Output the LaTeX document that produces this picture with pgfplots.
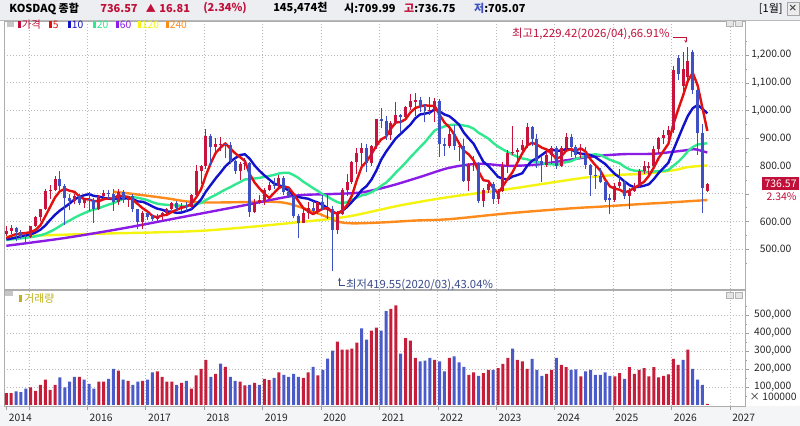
\documentclass[border=0pt]{standalone}
\usepackage{pgfplots}
\pgfplotsset{compat=1.18}
\usepackage{pgfplotstable}
\usepackage{fontspec}
\setmainfont{Noto Sans CJK KR}
\usetikzlibrary{arrows.meta}
\definecolor{upc}{HTML}{C8143C}
\definecolor{dnc}{HTML}{3F4FC4}
\definecolor{volr}{HTML}{C41E3A}
\definecolor{volb}{HTML}{4A5AC8}
\definecolor{maA}{HTML}{E41010}
\definecolor{maB}{HTML}{1212CC}
\definecolor{maC}{HTML}{30E890}
\definecolor{maD}{HTML}{8A1CE6}
\definecolor{maE}{HTML}{F4F410}
\definecolor{maF}{HTML}{FF8A1C}
\definecolor{crim}{HTML}{C0103A}
\definecolor{slate}{HTML}{3B4B8A}
\definecolor{hdrbg}{HTML}{ECEEF1}
\definecolor{olive}{HTML}{BDB21C}

% candles: x o h l c
\pgfplotstableread{
x o h l c
0 556 582 548 567
1 567 586 556 575
5 543 585 540 582
6 582 620 578 616
7 616 646 600 643
8 643 717 640 708
9 708 731 680 712
10 712 763 708 752
14 675 700 661 692
16 668 686 650 682
19 645 695 640 691
20 691 712 682 703
23 670 715 660 707
25 676 693 651 690
28 596 636 574 632
31 609 625 600 619
32 619 635 605 631
33 631 650 627 643
34 643 671 640 668
36 650 666 636 654
38 652 700 643 694
39 694 803 690 781
40 781 805 735 798
41 798 932 790 908
43 868 902 842 878
44 876 904 853 880
48 782 815 749 808
49 806 830 786 810
51 634 680 630 667
52 667 695 662 676
53 676 720 660 714
54 714 743 710 731
56 726 766 723 757
61 595 646 593 631
62 631 670 610 650
64 637 671 625 669
66 640 694 609 643
68 569 636 554 627
69 627 720 622 713
70 713 770 690 743
71 743 816 734 815
72 815 866 771 847
73 847 883 795 866
75 809 875 800 873
76 873 969 861 968
79 913 962 894 956
80 956 1031 948 983
82 977 1017 970 1012
83 1012 1061 1003 1035
84 1032 1062 980 1036
87 997 1050 985 1002
88 1002 1044 958 1033
91 872 942 865 915
93 869 880 817 873
95 745 812 708 804
96 804 834 781 807
98 673 719 651 712
99 712 745 702 733
101 679 715 663 711
102 711 815 705 800
103 800 856 773 848
104 848 944 840 851
105 851 865 817 857
106 857 895 855 874
107 874 956 864 939
111 802 854 795 841
112 841 871 807 866
114 799 870 795 863
115 863 919 857 906
118 839 879 829 842
125 678 738 670 728
126 728 790 720 743
128 693 720 645 711
129 711 740 705 728
130 728 790 720 781
131 781 819 772 801
132 793 815 769 800
133 800 872 790 860
134 860 905 845 900
135 900 930 880 910
136 910 945 890 930
137 930 1160 920 1145
139 1088 1212 1070 1150
140 1120 1229.42 1100 1180
144 709.99 736.75 705.07 736.57
}\upT

\pgfplotstableread{
x o h l c
2 575 580 528 561
3 561 570 536 545
4 547 562 522 543
11 752 783 710 728
12 728 735 587 685
13 685 697 641 675
15 692 698 660 668
17 682 705 639 678
18 678 684 595 645
21 703 714 680 699
22 699 717 637 670
24 707 713 666 676
26 690 697 633 643
27 643 644 573 596
29 632 642 606 617
30 617 623 602 609
35 668 675 640 650
37 654 671 636 651
42 908 916 799 868
45 880 887 830 874
46 874 887 806 817
47 817 820 772 782
50 810 813 617 634
55 731 758 718 726
57 757 764 696 705
58 705 720 685 690
59 690 699 612 618
60 618 625 540 595
63 650 672 627 637
65 669 695 640 640
67 643 654 419.55 569
74 866 878 779 809
77 968 1007 935 963
78 963 980 895 913
81 983 987 919 977
85 1036 1047 996 1012
86 1012 1023 957 999
89 1033 1040 833 878
90 878 900 837 872
92 915 948 858 870
94 873 898 742 745
97 807 815 665 673
100 733 743 661 679
108 939 944 870 896
109 896 914 794 818
110 818 831 743 802
113 866 870 790 799
116 906 916 832 868
117 868 876 829 839
119 841 868 790 803
120 803 806 691 767
121 767 797 718 763
122 763 791 737 743
123 743 749 671 678
124 686 700 627 678
127 743 748 680 693
138 1188 1200 1110 1130
141 1212 1218 1060 1075
142 1075 1090 840 918
143 918 950 629 719.76
}\dnT

\pgfplotstableread{
x v
0 540
1 548
2 554
3 556
4 558.2
5 561.2
6 569.4
7 585.8
8 618.4
9 652.2
10 686.2
11 708.6
12 717
13 710.4
14 706.4
15 689.6
16 680.4
17 679
18 673
19 672.8
20 679.8
21 683.2
22 681.6
23 694
24 691
25 688.4
26 677.2
27 662.4
28 647.4
29 635.6
30 619.4
31 614.6
32 621.6
33 623.8
34 634
35 642.2
36 649.2
37 653.4
38 663.6
39 686.2
40 715.8
41 766.6
42 809.8
43 846.6
44 866
45 881.2
46 863
47 845.8
48 831.8
49 818
50 770
51 740
52 718.8
53 700
54 684.4
55 702.8
56 720.8
57 726.6
58 721.8
59 699.2
60 673
61 647.8
62 636.8
63 626.2
64 636.4
65 645.4
66 647.8
67 631.6
68 629.6
69 638.4
70 659
71 693.4
72 749
73 796.8
74 816
75 842
76 872.6
77 895.8
78 905.2
79 934.6
80 956.6
81 958.4
82 968.2
83 992.6
84 1008.6
85 1014.4
86 1018.8
87 1016.4
88 1016
89 984.4
90 956.4
91 939.6
92 913.6
93 881.4
94 854.8
95 841.2
96 819.6
97 780.2
98 748.2
99 745.8
100 720.8
101 701.6
102 727
103 754.2
104 777.8
105 813.4
106 846
107 873.8
108 883.4
109 876.8
110 865.8
111 859.2
112 844.6
113 825.2
114 834.2
115 855
116 860.4
117 855
118 863.4
119 851.4
120 823.6
121 802.6
122 783.4
123 750.8
124 725.8
125 718
126 714
127 704
128 710.6
129 720.6
130 731.2
131 742.8
132 764.2
133 794
134 828.4
135 854.2
136 880
137 949
138 1003
139 1053
140 1107
141 1136
142 1090.6
143 1008.6
144 925.9
}\maFive

\pgfplotstableread{
x v
0 535
1 538
2 542
3 546
4 550
5 553
6 560
7 570
8 585
9 605.2
10 623.7
11 639
12 651.4
13 664.4
14 679.3
15 687.9
16 694.5
17 698
18 691.7
19 689.6
20 684.7
21 681.8
22 680.3
23 683.5
24 681.9
25 684.1
26 680.2
27 672
28 670.7
29 663.3
30 653.9
31 645.9
32 642
33 635.6
34 634.8
35 630.8
36 631.9
37 637.5
38 643.7
39 660.1
40 679
41 707.9
42 731.6
43 755.1
44 776.1
45 798.5
46 814.8
47 827.8
48 839.2
49 842
50 825.6
51 801.5
52 782.3
53 765.9
54 751.2
55 736.4
56 730.4
57 722.7
58 710.9
59 691.8
60 687.9
61 684.3
62 681.7
63 674
64 667.8
65 659.2
66 647.8
67 634.2
68 627.9
69 637.4
70 652.2
71 670.6
72 690.3
73 713.2
74 727.2
75 750.5
76 783
77 822.4
78 851
79 875.3
80 899.3
81 915.5
82 932
83 948.9
84 971.6
85 985.5
86 988.6
87 992.3
88 1004.3
89 996.5
90 985.4
91 979.2
92 965
93 948.7
94 919.6
95 898.8
96 879.6
97 846.9
98 814.8
99 800.3
100 781
101 760.6
102 753.6
103 751.2
104 761.8
105 767.1
106 773.8
107 800.4
108 818.8
109 827.3
110 839.6
111 852.6
112 859.2
113 854.3
114 855.5
115 860.4
116 859.8
117 849.8
118 844.3
119 842.8
120 839.3
121 831.5
122 819.2
123 807.1
124 788.6
125 770.8
126 758.3
127 743.7
128 730.7
129 723.2
130 724.6
131 728.4
132 734.1
133 752.3
134 774.5
135 792.7
136 811.4
137 856.6
138 898.5
139 940.7
140 980.6
141 1008
142 1019.8
143 1005.8
144 989.4
}\maTen

\pgfplotstableread{
x v
0 533
1 535
2 537
3 539
4 541
5 543
6 546
7 550
8 555
9 563
10 572
11 583
12 594
13 603
14 613
15 622
16 630
17 637
18 643
19 647.4
20 654.2
21 660.4
22 665.9
23 674
24 680.6
25 686
26 687.4
27 685
28 681.2
29 676.5
30 669.3
31 663.9
32 661.2
33 659.6
34 658.4
35 657.5
36 656.1
37 654.8
38 657.2
39 661.7
40 666.5
41 676.9
42 686.8
43 695.4
44 705.5
45 714.7
46 723.4
47 732.7
48 741.5
49 751.1
50 752.3
51 754.7
52 757
53 760.5
54 763.7
55 767.5
56 772.6
57 775.3
58 775.1
59 766.9
60 756.8
61 742.9
62 732
63 720
64 709.5
65 697.8
66 689.1
67 678.5
68 669.4
69 664.6
70 670.1
71 677.5
72 686
73 693.6
74 697.5
75 704.9
76 715.4
77 728.3
78 739.5
79 756.4
80 775.8
81 793.1
82 811.2
83 831.1
84 849.4
85 868
86 885.8
87 907.4
88 927.7
89 935.9
90 942.4
91 947.4
92 948.5
93 948.8
94 945.6
95 942.2
96 934.1
97 919.6
98 909.6
99 898.4
100 883.2
101 869.9
102 859.3
103 850
104 840.7
105 833
106 826.7
107 823.7
108 816.8
109 813.8
110 810.3
111 806.6
112 806.4
113 802.8
114 808.7
115 813.8
116 816.8
117 825.1
118 831.6
119 835.1
120 839.5
121 842.1
122 839.2
123 830.7
124 822.1
125 815.6
126 809.1
127 796.8
128 787.5
129 783
130 782
131 780
132 776.7
133 779.7
134 781.6
135 781.8
136 784.9
137 800.2
138 814.6
139 832
140 852.6
141 868.2
142 877
143 879.1
144 882
}\maTwenty

\pgfplotstableread{
x v
0 512
12 540
24 575
36 615
48 655
59 692
67 698.7
73 704.6
79 728.3
85 760.2
91 793.2
97 807.7
103 800.3
109 804.8
115 820.3
121 835
127 842.6
133 843.8
139 855.1
141 860
142 858.5
143 853.2
144 848.2
}\maSixty

\pgfplotstableread{
x v
0 545
10 551
20 556
30 560
40 566
50 580
60 597
70 617
81 658
91 688
103 716
112 740
119 758
125 767
131 772
137 784
140 795.7
144 801.5
}\maOneTwenty

\pgfplotstableread{
x v
22 707
26 699
33 683
37 672
41 668
47 669
54 671
58 664
64 629
68 600
71 593
77 596
84 603
91 608
103 629
116 647
122 653
130 662
136 668
144 677
}\maTwoForty

\pgfplotsset{
  chart/.style={
    scale only axis, width=741pt,
    xmin=-0.44, xmax=151.7,
    axis line style={draw=gray!65},
    grid style={draw=gray!55, dash pattern=on 1pt off 2pt},
    tick style={draw=gray!75},
    tick label style={font=\fontsize{10.3}{12}\selectfont, text=black!85},
    xtick={4.6,16.6,28.6,40.6,52.6,64.6,76.6,88.6,100.6,112.6,124.6,136.6,148.6},
    xmajorgrids, ymajorgrids,
    ytick pos=right, yticklabel pos=right,
    tick align=outside,
    major tick length=4pt, minor tick length=2.5pt,
  },
  wick/.style={forget plot, draw=none, mark=none,
    error bars/.cd, y dir=plus, y explicit, error mark=none,
    error bar style={draw=#1, line width=1pt}},
  body/.style={forget plot, draw=none, mark=none,
    error bars/.cd, y dir=plus, y explicit, error mark=none,
    error bar style={draw=#1, line width=3pt}},
  ma/.style={forget plot, no marks, line width=2.4pt, line join=round, color=#1},
}

\begin{document}
\begin{tikzpicture}
\fill[white] (0pt,0pt) rectangle (800pt,426pt);
\fill[hdrbg] (0pt,406pt) rectangle (800pt,426pt);
\fill[hdrbg!60] (0pt,0pt) rectangle (800pt,20pt);
\draw[gray!55] (0pt,405.5pt) -- (800pt,405.5pt);

% ===== main price panel =====
\begin{axis}[chart,
  at={(4pt,405pt)}, anchor=north west, height=268pt,
  ymin=356.7, ymax=1322.5,
  xticklabels={}, xtick style={draw=none},
  ytick={500,600,800,900,1000,1100,1200}, minor ytick={450,550,...,1250},
  extra y ticks={700}, extra y tick labels={},
  yticklabel style={anchor=east, xshift=46pt,
    /pgf/number format/.cd, fixed, fixed zerofill, precision=2, 1000 sep={,}, assume math mode=true},
]
\addplot[ma=maF, smooth, tension=0.5] table[x=x,y=v] {\maTwoForty};
\addplot[ma=maE, smooth, tension=0.5] table[x=x,y=v] {\maOneTwenty};
\addplot[ma=maD, smooth, tension=0.5] table[x=x,y=v] {\maSixty};
\addplot[ma=maC] table[x=x,y=v] {\maTwenty};
\addplot[ma=maB] table[x=x,y=v] {\maTen};
\addplot[ma=maA] table[x=x,y=v] {\maFive};
% wicks
\addplot[wick=upc] table[x=x, y=l, y error plus expr=\thisrow{h}-\thisrow{l}] {\upT};
\addplot[wick=dnc] table[x=x, y=l, y error plus expr=\thisrow{h}-\thisrow{l}] {\dnT};
% bodies
\addplot[body=upc] table[x=x, y=o, y error plus expr=\thisrow{c}-\thisrow{o}] {\upT};
\addplot[body=dnc] table[x=x, y=c, y error plus expr=\thisrow{o}-\thisrow{c}] {\dnT};
\end{axis}

% ===== volume panel =====
\begin{axis}[chart,
  at={(4pt,136pt)}, anchor=north west, height=116pt,
  ymin=-5000, ymax=640000,
  xtick pos=bottom,
  xticklabels={{},2016,2017,2018,2019,2020,2021,2022,2023,2024,2025,2026,2027},
  extra x ticks={0}, extra x tick labels={2014}, extra x tick style={grid=none},
  xticklabel style={anchor=north west, xshift=-1pt, yshift=-0.5pt},
  ytick={100000,200000,300000,400000,500000},
  minor ytick={50000,150000,250000,350000,450000,550000},
  scaled y ticks=false,
  yticklabel style={anchor=east, xshift=46pt,
    /pgf/number format/.cd, fixed, precision=0, 1000 sep={,}, assume math mode=true},
]
\addplot[ybar, bar width=3pt, bar shift=0pt, fill=volr, draw=none, forget plot] coordinates {
(0,65000)(1,65000)(5,97000)(6,78000)(7,112000)(8,140000)(9,84000)(10,112000)
(15,156000)(19,130000)(20,130000)(23,190000)(25,134000)(28,134000)(31,186000)
(32,156000)(33,130000)(34,130000)(36,123000)(38,90000)(39,164000)(40,201000)
(41,251000)(43,173000)(45,212000)(48,130000)(49,108000)(51,123000)(53,145000)
(54,138000)(56,181000)(61,151000)(62,181000)(64,164000)(68,352000)(69,307000)
(70,307000)(71,313000)(72,346000)(75,413000)(76,430000)(79,534000)(80,553000)
(82,372000)(83,358000)(84,261000)(88,251000)(91,261000)(95,167000)(96,181000)
(98,177000)(99,195000)(101,205000)(102,228000)(103,261000)(105,251000)(106,242000)
(107,201000)(111,172000)(112,195000)(114,223000)(115,210000)(118,158000)
(125,158000)(126,177000)(128,210000)(129,172000)(130,195000)(131,205000)
(132,158000)(133,210000)(134,153000)(135,162000)(136,170000)(137,256000)
(138,223000)(140,307000)(144,5000)
};
\addplot[ybar, bar width=3pt, bar shift=0pt, fill=volb, draw=none, forget plot] coordinates {
(2,75000)(3,71000)(4,90000)(11,153000)(12,97000)(13,130000)(14,156000)(16,140000)
(17,117000)(18,90000)(21,145000)(22,201000)(24,140000)(26,112000)(27,130000)
(29,140000)(30,181000)(35,112000)(37,134000)(42,156000)(44,229000)(46,156000)
(47,134000)(50,112000)(52,112000)(55,151000)(57,167000)(58,156000)(59,173000)
(60,156000)(63,212000)(65,195000)(66,257000)(67,302000)(73,426000)(74,363000)
(77,413000)(78,521000)(81,285000)(85,242000)(86,246000)(87,261000)(89,242000)
(90,186000)(92,270000)(93,237000)(94,212000)(97,162000)(100,195000)(104,313000)
(108,256000)(109,195000)(110,162000)(113,261000)(116,195000)(117,198000)
(119,186000)(120,195000)(121,167000)(122,167000)(123,181000)(124,162000)
(127,145000)(139,251000)(141,201000)(142,140000)(143,112000)
};
\end{axis}

\begin{scope}[x=1pt,y=1pt]
% header
\begin{scope}[every node/.style={anchor=west, inner sep=0pt, font=\fontsize{11}{13}\selectfont\bfseries}]
\node at (9,417.5) {KOSDAQ 종합};
\node[text=crim] at (100,417.5) {736.57};
\node[text=crim, font=\fontsize{10}{12}\selectfont] at (145.5,417.5) {▲};
\node[text=crim] at (159,417.5) {16.81};
\node[text=crim] at (203,417.5) {(2.34\%)};
\node at (273,417.5) {145,474천};
\node at (344,417.5) {시:709.99};
\node at (404,417.5) {\textcolor{crim}{고}:736.75};
\node at (474,417.5) {\textcolor{dnc}{저}:705.07};
\end{scope}
\node[anchor=east, inner sep=0pt, font=\fontsize{11}{12}\selectfont] at (783,417.5) {[1월]};
\draw[gray!70, fill=gray!15] (787,411) rectangle (799,424);
\node[inner sep=0pt, font=\fontsize{9}{10}\selectfont\bfseries, text=black!75] at (793,417.5) {×};

% panel icons
\foreach \yy in {400,128} {
  \draw[gray!60, fill=gray!20] (726,\yy) rectangle (733,\yy+6);
  \draw[gray!60, fill=gray!20] (735,\yy) rectangle (742,\yy+6);
}

% main legend
\fill[gray!45] (7,399) rectangle (14,404);
\foreach \xx/\cc/\tt in {18/crim/가격, 49/maA/5, 68/maB/10, 93/maC/20, 116/maD/60, 138/maE/120, 166/maF/240} {
  \fill[\cc] (\xx,397.5) rectangle (\xx+2.5,404.5);
  \node[anchor=west, inner sep=0pt, text=\cc, font=\fontsize{10.3}{12}\selectfont] at (\xx+3.5,401) {\tt};
}

% volume legend
\fill[gray!45] (5,130) rectangle (13,135);
\fill[olive] (19,123.5) rectangle (21.5,130.5);
\node[anchor=west, inner sep=0pt, text=olive, font=\fontsize{10.8}{12}\selectfont] at (24,127) {거래량};

% high annotation
\node[anchor=west, inner sep=0pt, text=crim, font=\fontsize{11.4}{13}\selectfont] at (512,392) {최고1,229.42(2026/04),66.91\%};
\draw[crim, line width=0.7pt, -{Stealth[length=3pt,width=3pt]}] (673,389) -- (686,389) -- (686,383);

% low annotation
\draw[slate, line width=0.7pt, -{Stealth[length=3pt,width=3pt]}] (345,141) -- (339.5,141) -- (339.5,148);
\node[anchor=west, inner sep=0pt, text=slate, font=\fontsize{11.3}{13}\selectfont] at (346,141) {최저419.55(2020/03),43.04\%};

% current price box
\fill[crim] (762,236) rectangle (799,249);
\node[anchor=east, inner sep=0pt, text=white, font=\fontsize{10.5}{12}\selectfont] at (797,242.5) {736.57};
\node[anchor=east, inner sep=0pt, text=crim, font=\fontsize{10.5}{12}\selectfont] at (797,229) {2.34\%};

% volume unit
\node[anchor=east, inner sep=0pt, text=black!85, font=\fontsize{10.3}{12}\selectfont] at (797,29) {× 100000};
\end{scope}
\end{tikzpicture}
\end{document}
